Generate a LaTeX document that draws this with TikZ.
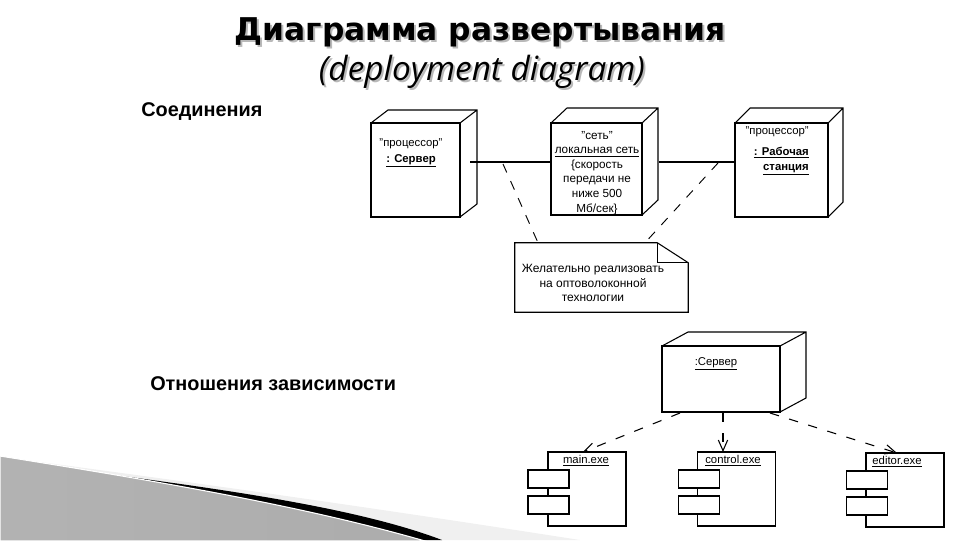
\documentclass[tikz,border=0pt]{standalone}
\usepackage{fontspec}
\setmainfont{Liberation Sans}
\newfontfamily\titlefont{DejaVu Sans}
\newfontfamily\subfont{Open Sans}
\usetikzlibrary{calc,arrows.meta}
\tikzset{
  edge/.style={line width=0.8pt, black},
  face/.style={draw, line width=0.8pt, fill=white, inner sep=0pt, outer sep=0pt},
  lbl/.style={inner sep=0pt, font=\fontsize{8.5pt}{11.2pt}\selectfont},
  heading/.style={inner sep=0pt, font=\bfseries\fontsize{14.9pt}{17pt}\selectfont},
  dep/.style={line width=0.8pt, dash pattern=on 7pt off 8pt, -{Straight Barb[length=8pt,width=7pt]}},
  notelink/.style={line width=0.7pt, dash pattern=on 7pt off 7pt},
  comp/.style={face, minimum width=58.5pt, minimum height=55.5pt},
  port/.style={face, minimum width=30.75pt, minimum height=13.5pt}
}
\begin{document}
\begin{tikzpicture}[x=0.75pt,y=-0.75pt]
\useasboundingbox (0,0) rectangle (960,540);
% decoration bottom-left
\fill[black!6] (40,462) .. controls (250,490) and (420,515) .. (580,540) -- (0,540) -- cycle;
\fill[black] (45,466) .. controls (200,486) and (350,505) .. (442,540) -- (0,540) -- cycle;
\shade[left color=gray!60, middle color=gray!18, right color=gray!65, draw=white, line width=0.8pt]
  (0,456) .. controls (150,480) and (300,505) .. (425,541) -- (0,541) -- cycle;
% title
\node[anchor=base, inner sep=0pt, text=gray!55, font=\titlefont\bfseries\fontsize{23.5pt}{28pt}\selectfont] (tsh) at (482,42) {Диаграмма развертывания};
\node[anchor=base, inner sep=0pt, font=\titlefont\bfseries\fontsize{23.5pt}{28pt}\selectfont] (title) at (480,40) {Диаграмма развертывания};
\node[anchor=base, inner sep=0pt, text=gray!55, font=\subfont\itshape\fontsize{25pt}{28pt}\selectfont] (ssh) at (484,82) {(deployment diagram)};
\node[anchor=base, inner sep=0pt, font=\subfont\itshape\fontsize{25pt}{28pt}\selectfont] (subtitle) at (482,80) {(deployment diagram)};
% headings
\node[heading, anchor=base west] (h1) at (141,116) {Соединения};
\node[heading, anchor=base west] (h2) at (150,390) {Отношения зависимости};
% cube 1
\node[face, minimum width=66.75pt, minimum height=70.5pt] (c1) at (415.5,170) {};
\draw[edge] (c1.north west) -- ++(17,-13) -- ($(c1.north east)+(17,-13)$) -- ($(c1.south east)+(17,-13)$) -- (c1.south east)
  (c1.north east) -- ++(17,-13);
\node[lbl, align=center, anchor=north] (c1t) at (411,138) {"процессор"\\[1pt]\textbf{\underline{: Сервер}}};
% cube 2
\node[face, minimum width=68.25pt, minimum height=69pt] (c2) at (596.5,169) {};
\draw[edge] (c2.north west) -- ++(16,-15) -- ($(c2.north east)+(16,-15)$) -- ($(c2.south east)+(16,-15)$) -- (c2.south east)
  (c2.north east) -- ++(16,-15);
\node[lbl, align=center, anchor=north, font=\fontsize{8.8pt}{10.9pt}\selectfont] (c2t) at (597,131) {"сеть"\\\underline{локальная сеть}\\\{скорость\\передачи не\\ниже 500\\Мб/сек\}};
% cube 3
\node[face, minimum width=69.75pt, minimum height=70.5pt] (c3) at (781.5,170) {};
\draw[edge] (c3.north west) -- ++(15,-15) -- ($(c3.north east)+(15,-15)$) -- ($(c3.south east)+(15,-15)$) -- (c3.south east)
  (c3.north east) -- ++(15,-15);
\node[lbl, align=right, anchor=north east] (c3t) at (809,126) {"процессор"\\[5pt]\textbf{\underline{: Рабочая}}\\\textbf{\underline{станция}}};
% connections
\coordinate (c1s) at ($(c1.east)+(10,-8)$);
\coordinate (c2s) at ($(c2.east)+(17,-7)$);
\draw[edge] (c1s) -- (c2.west |- c1s);
\draw[edge] (c2s) -- (c3.west |- c2s);
% note
\node[inner sep=0pt, minimum width=129.75pt, minimum height=51.75pt] (nt) at (601.5,277.5) {};
\draw[edge, fill=white] (nt.north west) -- ($(nt.north east)+(-31,0)$) -- ($(nt.north east)+(0,20)$) -- (nt.south east) -- (nt.south west) -- cycle;
\draw[edge] ($(nt.north east)+(-31,0)$) -- ($(nt.north east)+(-31,20)$) -- ($(nt.north east)+(0,20)$);
\node[lbl, align=center, font=\fontsize{9pt}{10.9pt}\selectfont] (ntt) at (593,283) {Желательно реализовать\\на оптоволоконной\\технологии};
\coordinate (k1) at (503,164);
\coordinate (k2) at (718,163);
\draw[notelink] (k1) -- (nt.north west -| 538,0);
\draw[notelink] (k2) -- (nt.north west -| 645,0);
% server cube
\node[face, minimum width=88.5pt, minimum height=49.5pt] (sc) at (721,379) {};
\draw[edge] (sc.north west) -- ++(26,-14) -- ($(sc.north east)+(26,-14)$) -- ($(sc.south east)+(26,-14)$) -- (sc.south east)
  (sc.north east) -- ++(26,-14);
\node[lbl] (sct) at (716,364) {\underline{:Сервер}};
% components
\node[comp] (m) at (587,489) {};
\node[port] (m1) at (548.5,479) {};
\node[port] (m2) at (548.5,505) {};
\node[lbl] (mt) at (586,461) {\underline{main.exe}};
\node[comp] (k) at (736.5,489) {};
\node[port] (k1p) at (699,479) {};
\node[port] (k2p) at (699,505) {};
\node[lbl] (kt) at (733,461) {\underline{control.exe}};
\node[comp] (e) at (905,490) {};
\node[port] (e1) at (867,480) {};
\node[port] (e2) at (867,506) {};
\node[lbl] (et) at (897,462) {\underline{editor.exe}};
% dependencies
\coordinate (d1) at (680,413);
\coordinate (d2) at (723,413);
\coordinate (d3) at (770,413);
\draw[dep] (d1) -- (m.north -| 583,0);
\draw[dep] (d2) -- (k.north -| 723,0);
\draw[dep] (d3) -- (e.north -| 897,0);
\end{tikzpicture}
\end{document}
